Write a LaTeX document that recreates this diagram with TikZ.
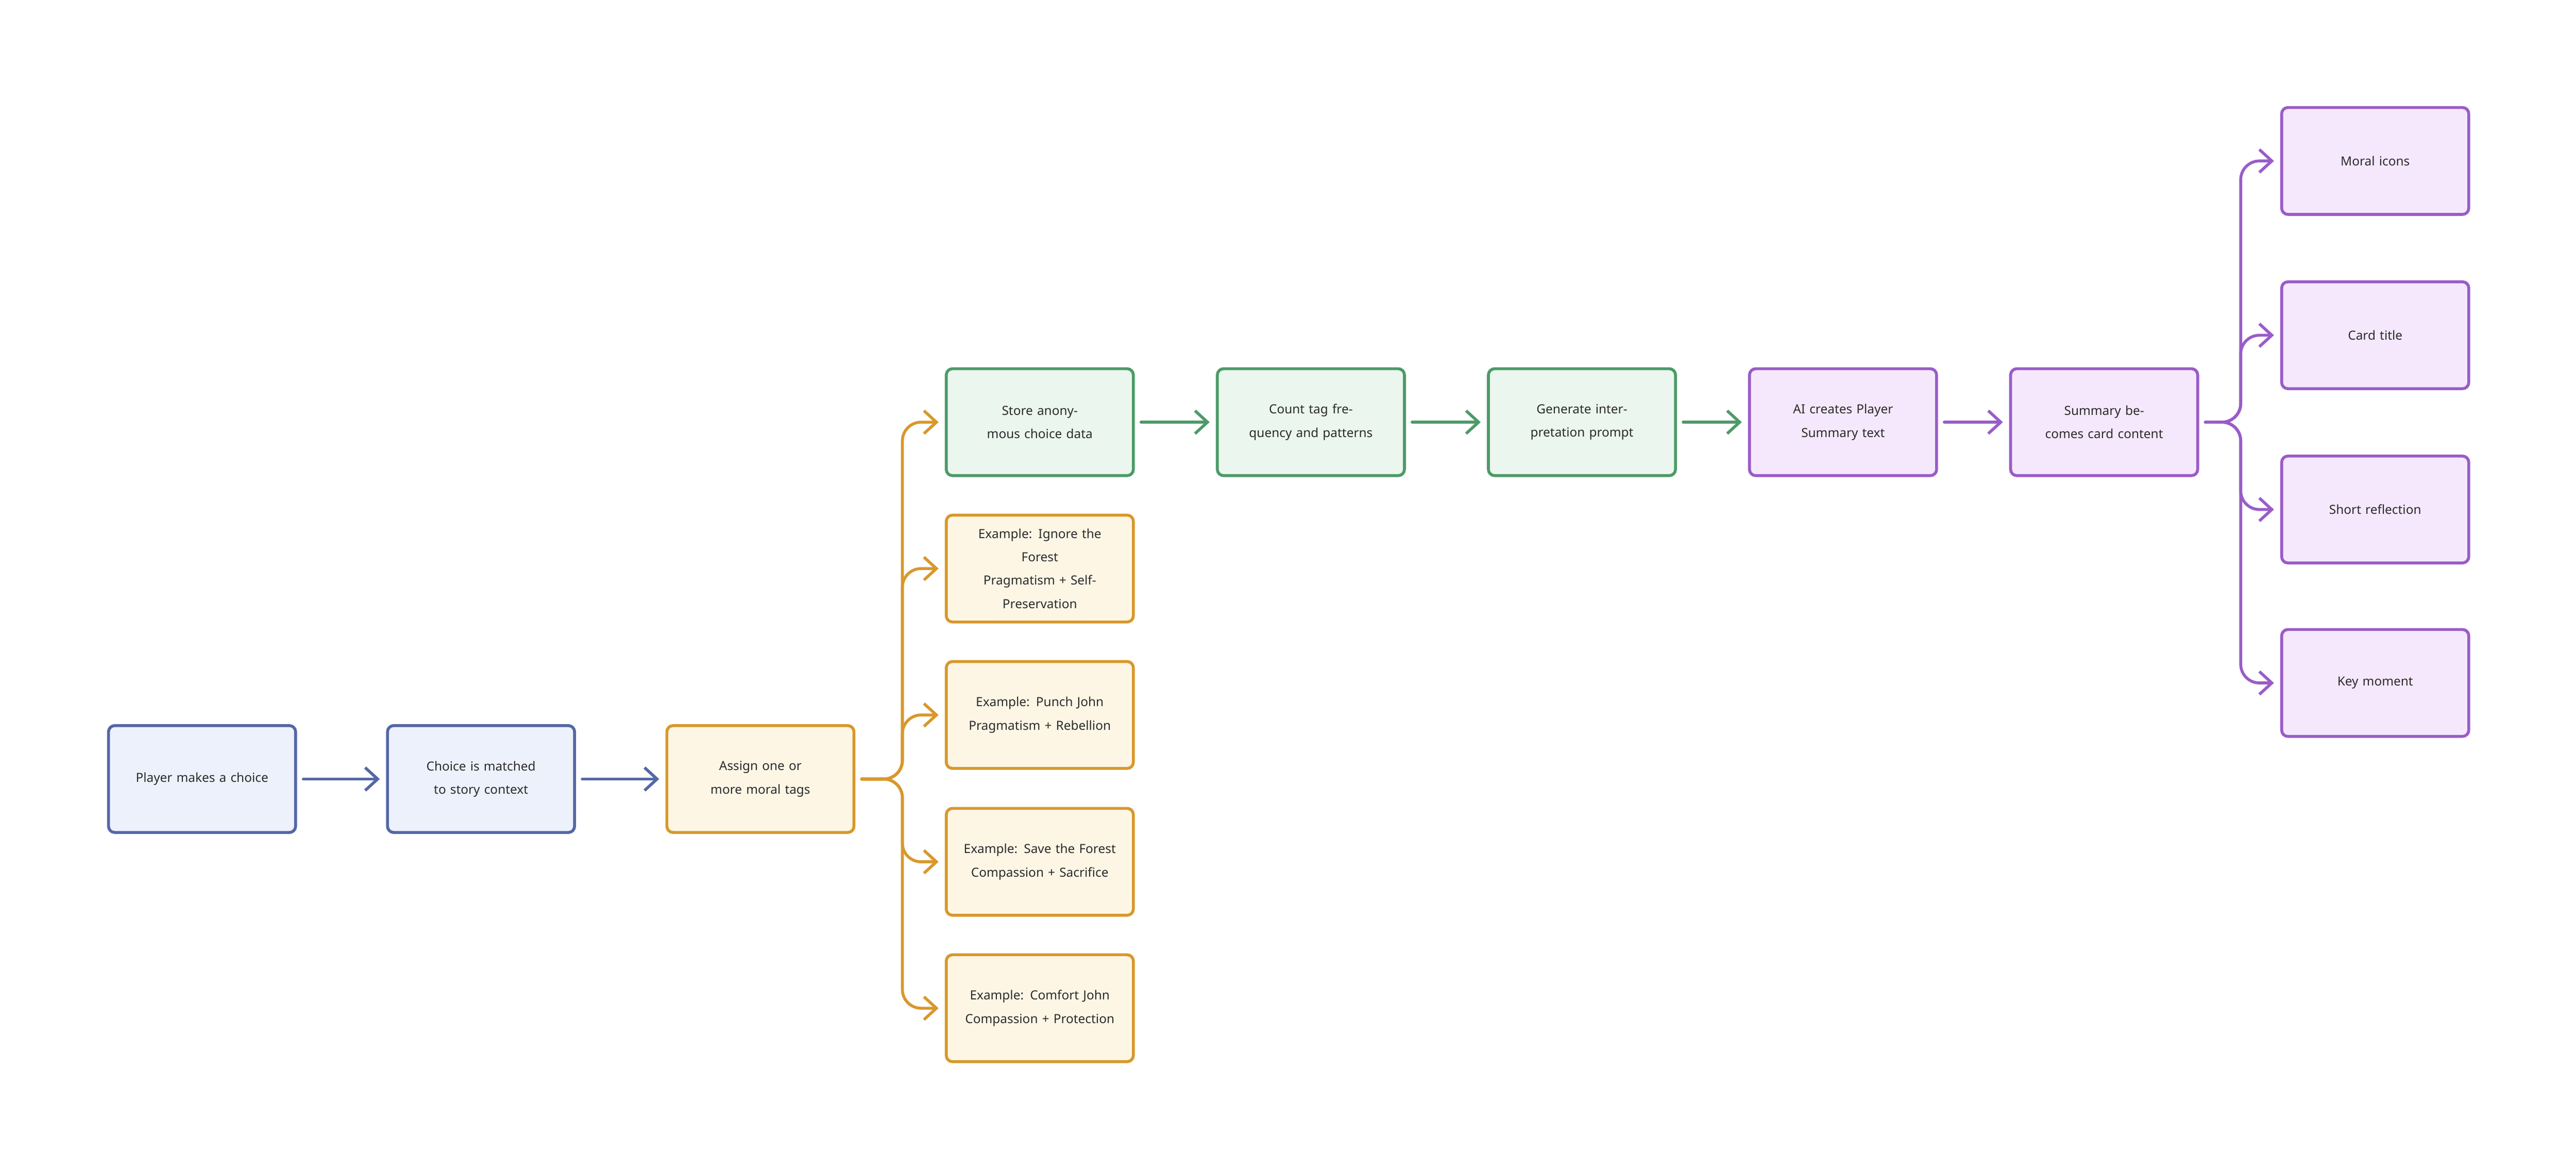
\documentclass[tikz,border=0pt]{standalone}
\usepackage{fontspec}
\setmainfont{Noto Sans}
\usetikzlibrary{arrows.meta}
\definecolor{bS}{HTML}{5467A6}\definecolor{bF}{HTML}{EDF1FC}
\definecolor{oS}{HTML}{D8982C}\definecolor{oF}{HTML}{FDF6E5}
\definecolor{gS}{HTML}{4D9A69}\definecolor{gF}{HTML}{EAF6EE}
\definecolor{pS}{HTML}{9A5CC8}\definecolor{pF}{HTML}{F5E8FC}
\definecolor{tx}{HTML}{2B2B2B}
\tikzset{
 box/.style={draw, line width=0.07cm, rounded corners=0.15cm, minimum width=4.5cm, minimum height=2.57cm,
   text width=3.9cm, align=center, font=\fontsize{8.6pt}{16pt}\selectfont, text=tx, inner sep=0pt},
 B/.style={box, draw=bS, fill=bF}, O/.style={box, draw=oS, fill=oF},
 G/.style={box, draw=gS, fill=gF}, P/.style={box, draw=pS, fill=pF},
 ar/.style={line width=0.07cm, line cap=round, line join=round, rounded corners=0.45cm,
   -{Straight Barb[length=0.3cm,width=0.55cm,line width=0.07cm]}, shorten <=0.15cm, shorten >=0.15cm}
}
\begin{document}
\begin{tikzpicture}[x=1cm,y=1cm]
\useasboundingbox (0,0) rectangle (61.96,-28.12);
\node[B] (a) at (4.86,-18.73) {Player makes a choice};
\node[B] (b) at (11.57,-18.73) {Choice is matched to story context};
\node[O] (c) at (18.29,-18.73) {Assign one or more moral tags};
\node[G] (d) at (25.01,-10.15) {Store anonymous choice data};
\node[O] (e1) at (25.01,-13.67) {Example: Ignore the\\Forest\\Pragmatism + Self-\\Preservation};
\node[O] (e2) at (25.01,-17.19) {Example: Punch John\\Pragmatism + Rebellion};
\node[O] (e3) at (25.01,-20.72) {Example: Save the Forest\\Compassion + Sacrifice};
\node[O] (e4) at (25.01,-24.24) {Example: Comfort John\\Compassion + Protection};
\node[G] (f) at (31.53,-10.15) {Count tag frequency and patterns};
\node[G] (g) at (38.05,-10.15) {Generate interpretation prompt};
\node[P] (h) at (44.33,-10.15) {AI creates Player Summary text};
\node[P] (i) at (50.61,-10.15) {Summary becomes card content};
\node[P] (j1) at (57.13,-3.87) {Moral icons};
\node[P] (j2) at (57.13,-8.06) {Card title};
\node[P] (j3) at (57.13,-12.25) {Short reflection};
\node[P] (j4) at (57.13,-16.42) {Key moment};
\draw[ar, bS] (a) -- (b);
\draw[ar, bS] (b) -- (c);
\draw[ar, gS] (d) -- (f);
\draw[ar, gS] (f) -- (g);
\draw[ar, gS] (g) -- (h);
\draw[ar, pS] (h) -- (i);
\foreach \t in {d,e1,e2,e3,e4}
  \draw[ar, oS] (c.east) -- ++(1.13,0) |- (\t.west);
\foreach \t in {j1,j2,j3,j4}
  \draw[ar, pS] (i.east) -- ++(1.0,0) |- (\t.west);
\end{tikzpicture}
\end{document}
